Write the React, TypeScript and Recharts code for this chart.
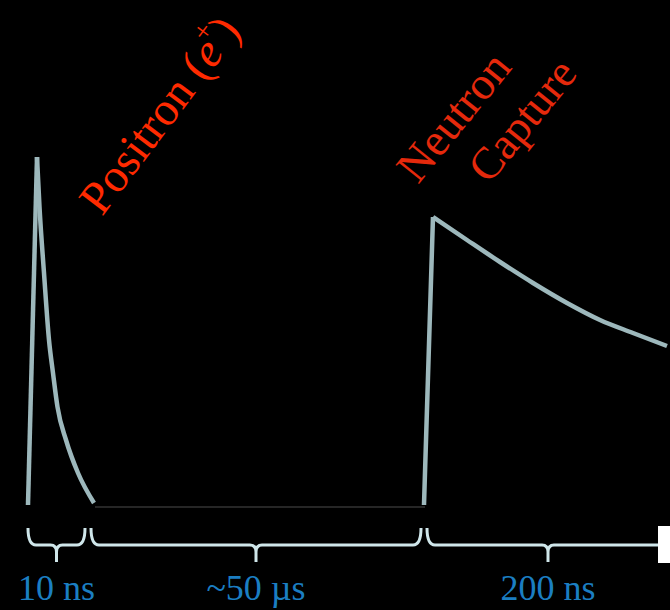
import React from 'react';
import { LineChart, Line, XAxis, YAxis, ReferenceArea, ReferenceDot } from 'recharts';

// time axis is in arbitrary drawing units, amplitude 0 = baseline
const pulse1Rise = [
  { t: 28, v: 0 },
  { t: 37, v: 348 },
];
const pulse1Decay = [
  { t: 37, v: 348 },
  { t: 39.5, v: 298 },
  { t: 44, v: 232 },
  { t: 49, v: 165 },
  { t: 53, v: 132 },
  { t: 57.5, v: 98 },
  { t: 66, v: 65 },
  { t: 78, v: 32 },
  { t: 94, v: 2 },
];
const baseline = [
  { t: 95, v: -2 },
  { t: 425, v: -2 },
];
const pulse2Rise = [
  { t: 424, v: 0 },
  { t: 433, v: 288 },
];
const pulse2Decay = [
  { t: 433, v: 288 },
  { t: 467, v: 265 },
  { t: 500, v: 243 },
  { t: 533, v: 222 },
  { t: 567, v: 202 },
  { t: 600, v: 185 },
  { t: 633, v: 172 },
  { t: 667, v: 159 },
];

// brace spans along the time axis and their labels
const spans = [
  { x1: 28, x2: 85, label: '10 ns' },
  { x1: 91, x2: 421, label: '~50 µs' },
  { x1: 427, x2: 669, label: '200 ns' },
];

const CURVE = '#9db8bc';
const BRACE = '#cfe6ea';
const BLUE = '#1b7ec2';

const Brace = (props: any) => {
  const { x, y, width, height, label } = props;
  const x1 = x;
  const x2 = x + width;
  const cx = x + width / 2;
  const top = y;
  const mid = y + height * 0.5;
  const bot = y + height;
  const d =
    `M${x1},${top} Q${x1},${mid} ${x1 + 8},${mid} L${cx - 6},${mid} Q${cx},${mid} ${cx},${mid + 7} L${cx},${bot}` +
    ` M${x2},${top} Q${x2},${mid} ${x2 - 8},${mid} L${cx + 6},${mid} Q${cx},${mid} ${cx},${mid + 7}`;
  return (
    <g>
      <path d={d} stroke={BRACE} strokeWidth={3} fill="none" />
      <text
        x={cx}
        y={bot + 38}
        textAnchor="middle"
        fill={BLUE}
        fontFamily="'Liberation Serif', 'Times New Roman', serif"
        fontSize={36}
      >
        {label}
      </text>
    </g>
  );
};

const RotatedLabel = (props: any) => {
  const { cx, cy, angle, color, size, children } = props;
  return (
    <text
      x={cx}
      y={cy}
      transform={`rotate(${angle} ${cx} ${cy})`}
      fill={color}
      fontFamily="'Liberation Serif', 'Times New Roman', serif"
      fontSize={size}
    >
      {children}
    </text>
  );
};

const lineProps = {
  dataKey: 'v',
  dot: false,
  activeDot: false,
  isAnimationActive: false,
  strokeLinejoin: 'round' as const,
};

export default function App() {
  return (
    <div style={{ position: 'absolute', top: 0, left: 0, width: 670, height: 610, background: '#000' }}>
      <LineChart width={670} height={610} margin={{ top: 0, right: 0, bottom: 0, left: 0 }}>
        <XAxis type="number" dataKey="t" domain={[0, 670]} hide allowDataOverflow />
        <YAxis type="number" dataKey="v" domain={[-105, 505]} hide allowDataOverflow />
        <Line {...lineProps} data={baseline} type="linear" stroke="#333" strokeWidth={1.5} />
        <Line {...lineProps} data={pulse1Rise} type="linear" stroke={CURVE} strokeWidth={4.5} />
        <Line {...lineProps} data={pulse1Decay} type="monotone" stroke={CURVE} strokeWidth={4.5} />
        <Line {...lineProps} data={pulse2Rise} type="linear" stroke={CURVE} strokeWidth={4.5} />
        <Line {...lineProps} data={pulse2Decay} type="monotone" stroke={CURVE} strokeWidth={4.5} />
        {spans.map((s) => (
          <ReferenceArea
            key={s.label}
            x1={s.x1}
            x2={s.x2}
            y1={-23}
            y2={-57}
            ifOverflow="visible"
            shape={(p: any) => <Brace {...p} label={s.label} />}
          />
        ))}
        <ReferenceArea x1={658} x2={670} y1={-21} y2={-58} fill="#fff" fillOpacity={1} stroke="none" ifOverflow="visible" />
        <ReferenceDot
          x={102}
          y={288}
          ifOverflow="visible"
          shape={(p: any) => (
            <RotatedLabel {...p} angle={-53} color="#ff2a00" size={47}>
              Positron (<tspan fontStyle="italic">e</tspan>
              <tspan fontSize={28} dy={-22} dx={-4}>+</tspan>
              <tspan dy={22}>)</tspan>
            </RotatedLabel>
          )}
        />
        <ReferenceDot
          x={418}
          y={320}
          ifOverflow="visible"
          shape={(p: any) => (
            <RotatedLabel {...p} angle={-51} color="#e5290c" size={46}>
              Neutron
            </RotatedLabel>
          )}
        />
        <ReferenceDot
          x={489}
          y={320}
          ifOverflow="visible"
          shape={(p: any) => (
            <RotatedLabel {...p} angle={-51} color="#e5290c" size={45}>
              Capture
            </RotatedLabel>
          )}
        />
      </LineChart>
    </div>
  );
}
